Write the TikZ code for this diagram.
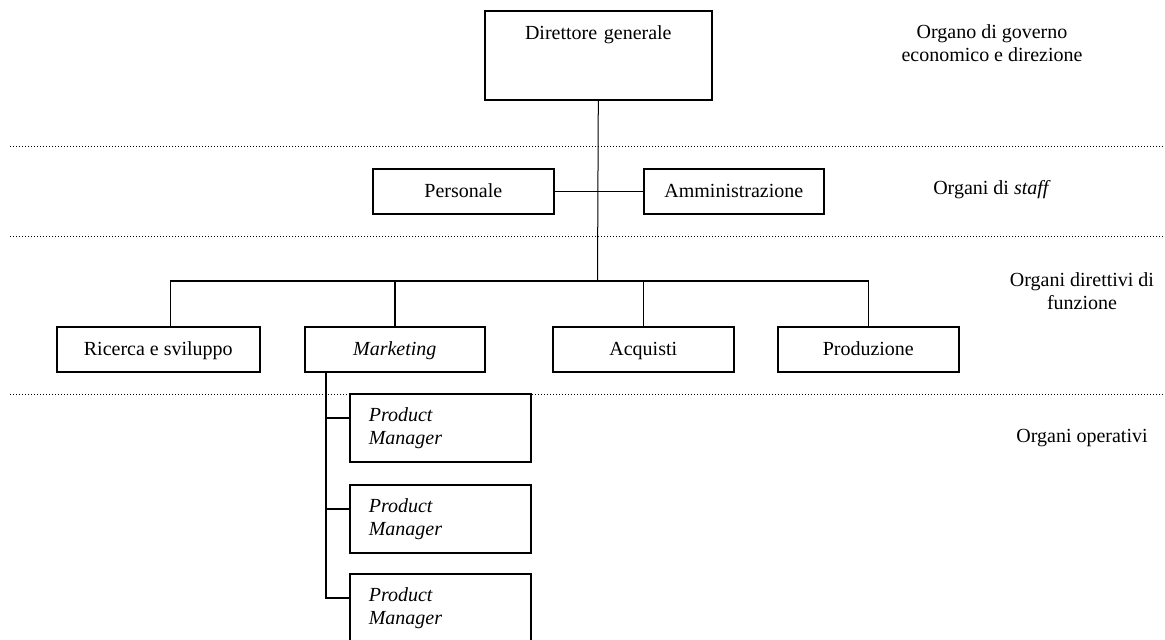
\documentclass[tikz,border=0pt]{standalone}
\usepackage{fontspec}
\setmainfont{Liberation Serif}
\begin{document}
\begin{tikzpicture}[x=0.5pt,y=-0.5pt,
  txt/.style={font=\fontsize{10}{11.5}\selectfont},
  box/.style={txt, draw, line width=0.8pt, inner sep=0pt, anchor=north west, align=center},
  unit/.style={box, minimum height=22.5pt, text height=7pt, text depth=0.5pt},
  pm/.style={box, align=left, inner xsep=9.5pt, text width=71.5pt, minimum height=34pt},
  wire/.style={line width=0.8pt},
  thinwire/.style={line width=0.5pt},
  sep/.style={line width=0.5pt, dash pattern=on 0.5pt off 1pt},
  lbl/.style={txt, align=center, inner sep=0pt}]
\useasboundingbox (0,0) rectangle (1165,639);

% level separators
\draw[sep] (10,146) -- (1165,146);
\draw[sep] (10,236) -- (1165,236);
\draw[sep] (10,394) -- (1165,394);

% top management
\node[box, text width=113.5pt, text height=14.5pt, text depth=30pt] (dir) at (484,10) {Direttore generale};

% staff units
\node[unit, minimum width=90.5pt] (pers) at (372,168) {Personale};
\node[unit, minimum width=90pt] (amm) at (643,168) {Amministrazione};

% functional units
\node[unit, minimum width=101.5pt] (ric) at (56,326) {Ricerca e sviluppo};
\node[unit, minimum width=90pt] (mkt) at (304,326) {\textit{Marketing}};
\node[unit, minimum width=90.5pt] (acq) at (552,326) {Acquisti};
\node[unit, minimum width=90.5pt] (prod) at (777,326) {Produzione};

% operational units
\node[pm] (pm1) at (349,393) {\textit{Product}\\\textit{Manager}};
\node[pm] (pm2) at (349,484) {\textit{Product}\\\textit{Manager}};
\node[pm] (pm3) at (349,573) {\textit{Product}\\\textit{Manager}};

% hierarchy connectors
\coordinate (bus) at (597.5,281);
\draw[thinwire] (dir.south) -- (bus);
\draw[wire] (pers.east) -- (amm.west);
\draw[wire] ([xshift=6pt]ric.north) |- (prod.north |- bus) -- (prod.north);
\draw[wire] (mkt.north) -- (mkt.north |- bus);
\draw[wire] (acq.north) -- (acq.north |- bus);

\coordinate (spine) at ([xshift=11pt]mkt.south west);
\draw[wire] (spine) |- ([yshift=5pt]pm3.west);
\draw[wire] (spine |- pm1.west) ++(0,-10) -- ([yshift=5pt]pm1.west);
\draw[wire] (spine |- pm2.west) ++(0,-10) -- ([yshift=5pt]pm2.west);

% level labels
\node[lbl] (l1) at (992,43.5) {Organo di governo\\economico e direzione};
\node[lbl] (l2) at (992,190) {Organi di \textit{staff}};
\node[lbl] (l3) at (1082,291) {Organi direttivi di\\funzione};
\node[lbl] (l4) at (1082,438) {Organi operativi};
\end{tikzpicture}
\end{document}
